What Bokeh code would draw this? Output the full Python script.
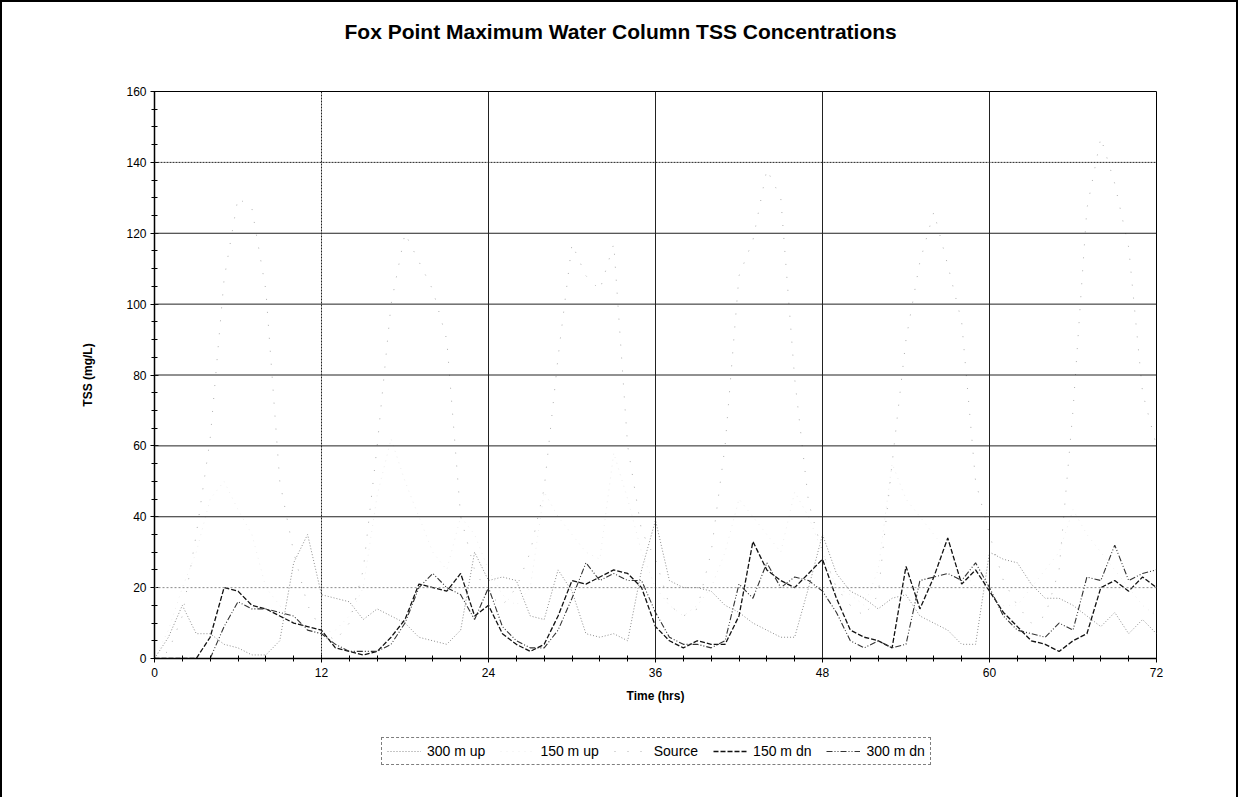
from bokeh.plotting import figure
from bokeh.layouts import column
from bokeh.models import FixedTicker, Span, Legend, LegendItem, Title, Range1d
from bokeh.embed import file_html
from bokeh.resources import INLINE

# ---------------- data ----------------
hours = list(range(0, 73))

up300 = [0, 6, 15, 7, 7, 4, 3, 1, 1, 5, 27, 35, 18, 17, 16, 11, 14, 12, 10, 6,
         5, 4, 8, 30, 22, 23, 22, 12, 11, 25, 19, 7, 6, 7, 5, 25, 39, 22, 20, 20,
         19, 15, 13, 10, 8, 6, 6, 20, 35, 24, 19, 17, 14, 17, 18, 12, 10, 8, 4, 4,
         30, 28, 27, 21, 17, 17, 15, 12, 9, 13, 7, 11, 7]

up150 = [0, 8, 20, 30, 45, 50, 42, 35, 20, 15, 10, 8, 7, 8, 12, 20, 46, 62, 50, 40,
         30, 25, 40, 35, 25, 18, 15, 20, 47, 40, 35, 30, 28, 58, 45, 30, 20, 15, 12, 15,
         20, 30, 45, 40, 35, 30, 47, 40, 30, 20, 18, 15, 25, 55, 45, 40, 35, 30, 25, 20,
         18, 15, 15, 20, 25, 30, 42, 35, 30, 25, 20, 15, 12]

source = [0, 2, 12, 35, 62, 107, 130, 127, 104, 50, 30, 15, 8, 5, 10, 25, 60, 100, 120, 112,
          104, 90, 40, 25, 18, 15, 20, 30, 48, 85, 117, 108, 104, 117, 60, 36, 28, 15, 12, 14,
          30, 60, 108, 118, 138, 130, 79, 44, 30, 20, 15, 12, 18, 55, 90, 112, 126, 111, 95, 50,
          35, 22, 15, 10, 12, 25, 70, 127, 147, 134, 116, 75, 60]

dn150 = [0, 0, 0, 0, 6, 20, 19, 15, 14, 12, 10, 9, 8, 3, 2, 1, 2, 6, 11, 21,
         20, 19, 24, 12, 15, 7, 4, 2, 4, 12, 22, 21, 23, 25, 24, 20, 9, 5, 3, 5,
         4, 4, 12, 33, 25, 22, 20, 24, 28, 17, 8, 6, 5, 3, 26, 14, 23, 34, 21, 25,
         19, 13, 9, 5, 4, 2, 5, 7, 20, 22, 19, 23, 20]

dn300 = [0, 0, 0, 0, 0, 9, 16, 14, 14, 13, 12, 8, 7, 4, 2, 2, 2, 4, 10, 20,
         24, 20, 18, 11, 20, 9, 5, 3, 3, 8, 17, 27, 22, 24, 22, 22, 13, 6, 4, 4,
         3, 5, 21, 17, 27, 20, 23, 22, 19, 13, 5, 3, 5, 3, 4, 22, 23, 24, 22, 27,
         20, 12, 8, 7, 6, 10, 8, 23, 22, 32, 22, 24, 25]

series_names = ["300 m up", "150 m up", "Source", "150 m dn", "300 m dn"]
x_ticks = [0, 12, 24, 36, 48, 60, 72]
y_ticks = [0, 20, 40, 60, 80, 100, 120, 140, 160]
title_text = "Fox Point Maximum Water Column TSS Concentrations"
x_label = "Time (hrs)"
y_label = "TSS (mg/L)"

FONT = "Liberation Sans"

styles = [
    dict(line_color="#8c8c8c", line_dash="1 2", line_width=1),
    dict(line_color="#eeeeee", line_dash="1 5", line_width=1),
    dict(line_color="#b0b0b0", line_dash="1 12", line_width=1),
    dict(line_color="#111111", line_dash="5 2", line_width=1.3),
    dict(line_color="#333333", line_dash="6 2 1 2 1 2", line_width=1.1),
]
series_values = [up300, up150, source, dn150, dn300]

p = figure(frame_width=1002, frame_height=567, x_range=(0, 72), y_range=(0, 160),
           output_backend="svg", toolbar_location=None,
           min_border_left=152, min_border_right=80, min_border_top=89,
           min_border_bottom=62)

p.xgrid.visible = False
p.ygrid.visible = False
p.outline_line_color = "black"
p.outline_line_width = 1

# grid lines as spans (the scan shows some of them dotted)
grid_styles_y = {20: ("#8a8a8a", "2 2"), 140: ("#222222", "2 1")}
for yv in y_ticks[1:-1]:
    col, dash = grid_styles_y.get(yv, ("#222222", "solid"))
    p.add_layout(Span(location=yv, dimension="width", line_color=col,
                      line_dash=dash, line_width=1))
grid_styles_x = {12: ("#222222", "2 1")}
for xv in x_ticks[1:-1]:
    col, dash = grid_styles_x.get(xv, ("#222222", "solid"))
    p.add_layout(Span(location=xv, dimension="height", line_color=col,
                      line_dash=dash, line_width=1))

for vals, st in zip(series_values, styles):
    p.line(hours, vals, **st)

# axes
p.xaxis.ticker = FixedTicker(ticks=x_ticks, minor_ticks=list(range(0, 73, 2)))
p.yaxis.ticker = FixedTicker(ticks=y_ticks, minor_ticks=list(range(0, 161, 5)))
for ax in (p.xaxis[0], p.yaxis[0]):
    ax.axis_line_color = "black"
    ax.axis_line_width = 1.5
    ax.major_tick_line_color = "black"
    ax.minor_tick_line_color = "black"
    ax.major_tick_in = 4
    ax.major_tick_out = 4
    ax.minor_tick_in = 3
    ax.minor_tick_out = 3
    ax.major_label_text_font = FONT
    ax.major_label_text_font_size = "12px"
    ax.major_label_text_color = "black"
    ax.axis_label_text_font = FONT
    ax.axis_label_text_font_size = "12px"
    ax.axis_label_text_font_style = "bold"
    ax.axis_label_text_color = "black"

p.xaxis.axis_label = x_label
p.xaxis.major_label_standoff = 5
p.xaxis.axis_label_standoff = 9
p.yaxis.axis_label = y_label
p.yaxis.major_label_standoff = 4
p.yaxis.axis_label_standoff = 28

# spacer (inner) + title (outer)
p.add_layout(Title(text=" ", text_font_size="10px", standoff=22), "above")
p.add_layout(Title(text=title_text, align="left", offset=190, standoff=28,
                   vertical_align="bottom", text_font=FONT, text_font_size="21px",
                   text_font_style="bold", text_color="black"), "above")

# legend strip below the chart: same series, drawn outside its view range,
# so only the legend entries are visible
lf = figure(width=1234, height=77, x_range=Range1d(0, 72), y_range=Range1d(-2, -1),
            output_backend="svg", toolbar_location=None,
            min_border_left=0, min_border_right=0, min_border_top=0, min_border_bottom=0)
lf.axis.visible = False
lf.grid.visible = False
lf.outline_line_color = None
legend_renderers = [lf.line(hours, vals, **st) for vals, st in zip(series_values, styles)]
legend = Legend(items=[LegendItem(label=n, renderers=[r]) for n, r in
                       zip(series_names, legend_renderers)],
                orientation="horizontal", location=(227, 32),
                label_text_font=FONT, label_text_font_size="14px",
                label_text_color="black", glyph_width=34, glyph_height=12,
                label_standoff=6, spacing=15, padding=5, margin=0,
                border_line_color="black", border_line_dash="1 1",
                border_line_width=1, background_fill_alpha=1)
lf.add_layout(legend)

layout = column(p, lf, spacing=0)
layout.styles = {"border-top": "2px solid black", "border-left": "2px solid black",
                 "border-right": "2px solid black", "box-sizing": "content-box"}

open("out.html", "w").write(file_html(layout, INLINE))
